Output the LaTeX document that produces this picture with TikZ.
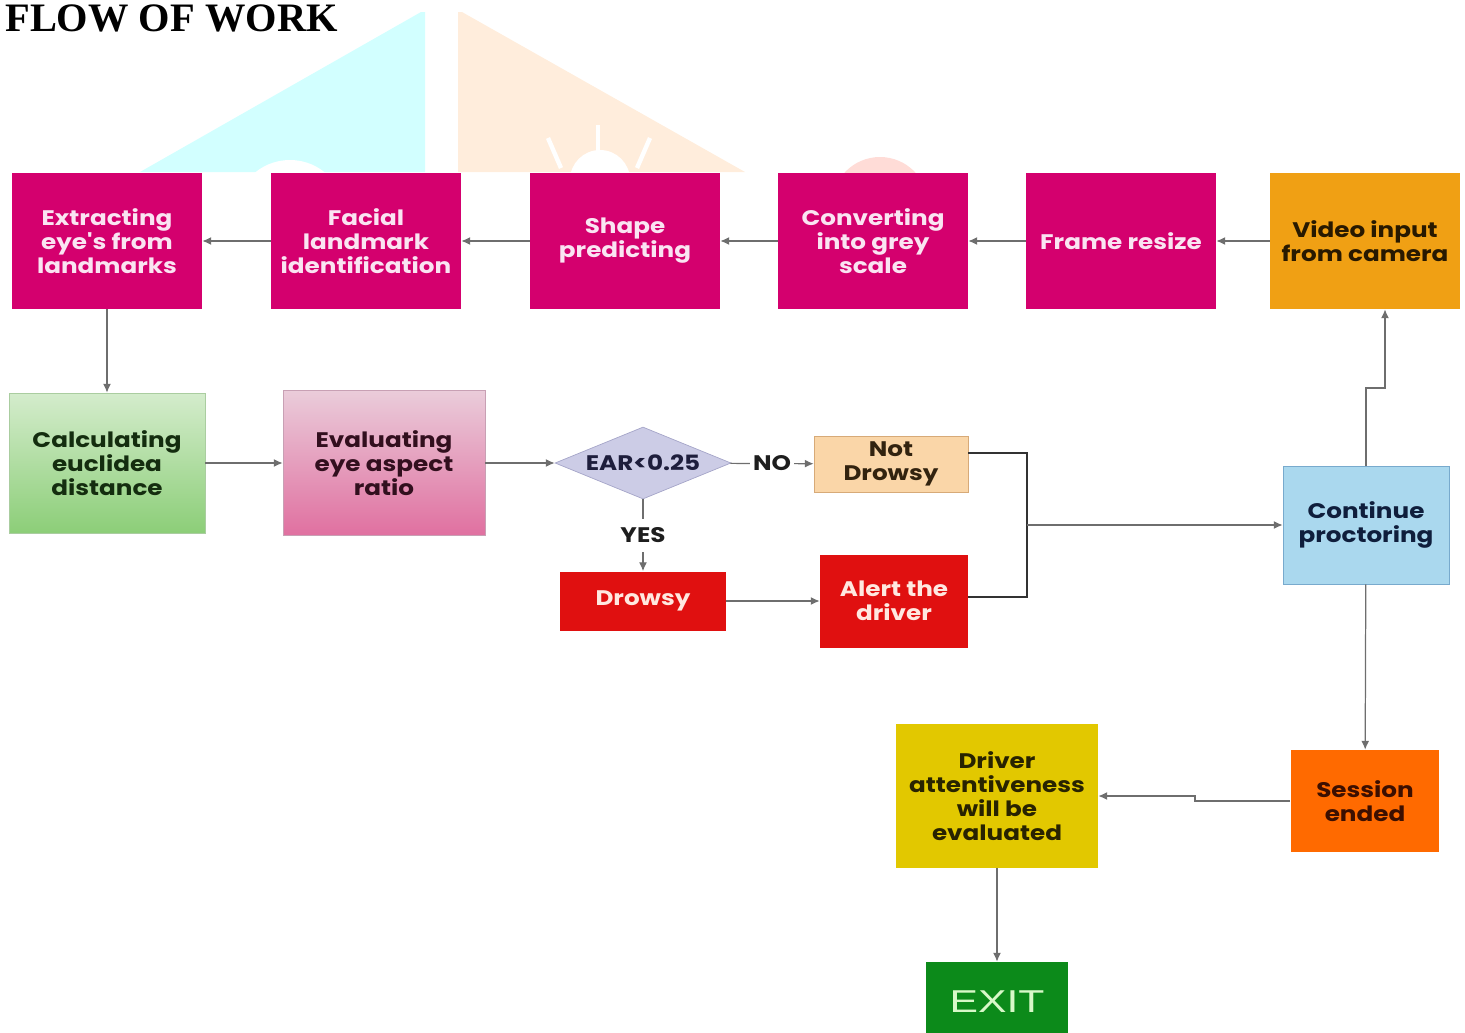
\documentclass[tikz,border=0pt]{standalone}
\usepackage{fontspec}
\setmainfont{Liberation Serif}
\newfontfamily\boxfont{Poppins}[FakeStretch=1.17]
\newfontfamily\exitfont{Liberation Sans}[FakeStretch=1.35]
\usetikzlibrary{shapes.geometric,arrows.meta}
\definecolor{mag}{RGB}{212,0,110}
\definecolor{magtext}{RGB}{250,228,242}
\definecolor{vidcol}{RGB}{240,160,20}
\definecolor{vidtext}{RGB}{40,25,0}
\definecolor{calctop}{RGB}{212,236,204}
\definecolor{calcbot}{RGB}{140,206,120}
\definecolor{calcline}{RGB}{170,205,160}
\definecolor{calctext}{RGB}{20,45,15}
\definecolor{evaltop}{RGB}{234,204,218}
\definecolor{evalbot}{RGB}{224,112,160}
\definecolor{evalline}{RGB}{200,160,180}
\definecolor{evaltext}{RGB}{50,15,30}
\definecolor{earcol}{RGB}{204,204,230}
\definecolor{earline}{RGB}{165,165,200}
\definecolor{eartext}{RGB}{30,30,60}
\definecolor{redcol}{RGB}{224,16,16}
\definecolor{redtext}{RGB}{255,232,224}
\definecolor{ndcol}{RGB}{250,214,168}
\definecolor{ndline}{RGB}{215,170,120}
\definecolor{ndtext}{RGB}{50,35,15}
\definecolor{contcol}{RGB}{170,216,238}
\definecolor{contline}{RGB}{120,170,205}
\definecolor{conttext}{RGB}{15,30,60}
\definecolor{sescol}{RGB}{255,106,0}
\definecolor{sestext}{RGB}{60,15,0}
\definecolor{drvcol}{RGB}{226,200,0}
\definecolor{drvtext}{RGB}{40,35,0}
\definecolor{exitcol}{RGB}{12,138,26}
\definecolor{exittext}{RGB}{216,248,200}
\definecolor{lncol}{RGB}{110,110,110}
\definecolor{brkcol}{RGB}{50,50,50}
\definecolor{lbltext}{RGB}{30,30,30}
\definecolor{wmcyan}{RGB}{210,255,255}
\definecolor{wmorange}{RGB}{255,237,220}
\definecolor{wmpink}{RGB}{255,220,215}
\begin{document}
\begin{tikzpicture}[x=0.02cm,y=-0.02cm,
	box/.style={rectangle, align=center, inner sep=1pt, font=\boxfont\bfseries\fontsize{12}{13.6}\selectfont},
	pinkbox/.style={box, fill=mag, text=magtext, minimum width=3.8cm, minimum height=2.72cm},
	arr/.style={draw=lncol, line width=0.7pt, -{Latex[length=5pt,width=4.5pt]}},
	brk/.style={draw=brkcol, line width=1.3pt},
	lbl/.style={fill=white, inner sep=1.5pt, font=\boxfont\bfseries\fontsize{12}{13.6}\selectfont, text=lbltext}]
	\useasboundingbox (0,0) rectangle (1465,1032);
	
	\begin{scope}
		\clip (0,0) rectangle (1465,172);
		\fill[wmcyan] (140,172) -- (421,12) -- (425,12) -- (425,172) -- cycle;
		\fill[white] (290,215) circle (55);
		\fill[wmorange] (458,172) -- (458,12) -- (462,12) -- (745,172) -- cycle;
		\fill[white] (600,180) circle (30);
		\draw[white, line width=2.5pt] (598,125) -- (598,158);
		\draw[white, line width=2.5pt] (548,138) -- (561,168);
		\draw[white, line width=2.5pt] (650,138) -- (637,168);
		\fill[wmpink] (880,205) circle (48);
	\end{scope}
	
	\node[anchor=base west, inner sep=0pt, font=\bfseries\fontsize{23}{26}\selectfont] (title) at (5,31) {FLOW OF WORK};
	
	\node[pinkbox] (ext) at (107,241) {Extracting\\eye's from\\landmarks};
	\node[pinkbox] (fac) at (366,241) {Facial\\landmark\\identification};
	\node[pinkbox] (shp) at (625,241) {Shape\\predicting};
	\node[pinkbox] (gry) at (873,241) {Converting\\into grey\\scale};
	\node[pinkbox] (frm) at (1121,241) {Frame resize};
	\node[box, fill=vidcol, text=vidtext, minimum width=3.8cm, minimum height=2.72cm] (vid) at (1365,241) {Video input\\from camera};
	
	\node[box, top color=calctop, bottom color=calcbot, draw=calcline, text=calctext, minimum width=3.92cm, minimum height=2.8cm] (calc) at (107,463) {Calculating\\euclidea\\distance};
	\node[box, top color=evaltop, bottom color=evalbot, draw=evalline, text=evaltext, minimum width=4.04cm, minimum height=2.9cm] (eval) at (384,463) {Evaluating\\eye aspect\\ratio};
	\node[box, diamond, shape aspect=2.44, inner sep=0pt, fill=earcol, draw=earline, text=eartext, minimum width=3.52cm, minimum height=1.44cm] (ear) at (643,463) {EAR<0.25};
	\node[box, fill=ndcol, draw=ndline, text=ndtext, minimum width=3.08cm, minimum height=1.12cm] (nd) at (891,464) {Not\\Drowsy};
	\node[box, fill=redcol, text=redtext, minimum width=3.32cm, minimum height=1.18cm] (drw) at (643,601) {Drowsy};
	\node[box, fill=redcol, text=redtext, minimum width=2.96cm, minimum height=1.86cm] (alt) at (894,601) {Alert the\\driver};
	\node[box, fill=contcol, draw=contline, text=conttext, minimum width=3.32cm, minimum height=2.36cm] (cont) at (1366,525) {Continue\\proctoring};
	\node[box, fill=sescol, text=sestext, minimum width=2.98cm, minimum height=2.04cm] (ses) at (1365,801) {Session\\ended};
	\node[box, fill=drvcol, text=drvtext, minimum width=4.04cm, minimum height=2.88cm] (drv) at (997,796) {Driver\\attentiveness\\will be\\evaluated};
	\node[rectangle, fill=exitcol, text=exittext, font=\exitfont\fontsize{18}{20}\selectfont, minimum width=2.86cm, minimum height=1.6cm] (exit) at (997,1002) {EXIT};
	
	\coordinate (j) at (1027,525);
	\coordinate (k1) at (1366,388);
	\coordinate (k2) at (1385,388);
	\coordinate (m) at (1195,801);
	
	\draw[arr] (vid) -- (frm);
	\draw[arr] (frm) -- (gry);
	\draw[arr] (gry) -- (shp);
	\draw[arr] (shp) -- (fac);
	\draw[arr] (fac) -- (ext);
	\draw[arr] (ext) -- (calc);
	\draw[arr] (calc) -- (eval);
	\draw[arr] (eval) -- (ear);
	\draw[arr] (ear) -- node[lbl] {NO} (nd);
	\draw[arr] (ear) -- node[lbl, inner ysep=5pt] {YES} (drw);
	\draw[arr] (drw) -- (alt);
	\draw[brk] ([yshift=0.22cm]nd.east) -| (j) |- ([yshift=0.08cm]alt.east);
	\draw[arr] (j) -- (cont);
	\draw[arr] (cont) -- (k1) -- (k2) -- (k2 |- vid.south);
	\draw[arr] (cont) -- (ses);
	\draw[arr] (ses) -- (m) -- (m |- drv) -- (drv);
	\draw[arr] (drv) -- (exit);
\end{tikzpicture}
\end{document}
